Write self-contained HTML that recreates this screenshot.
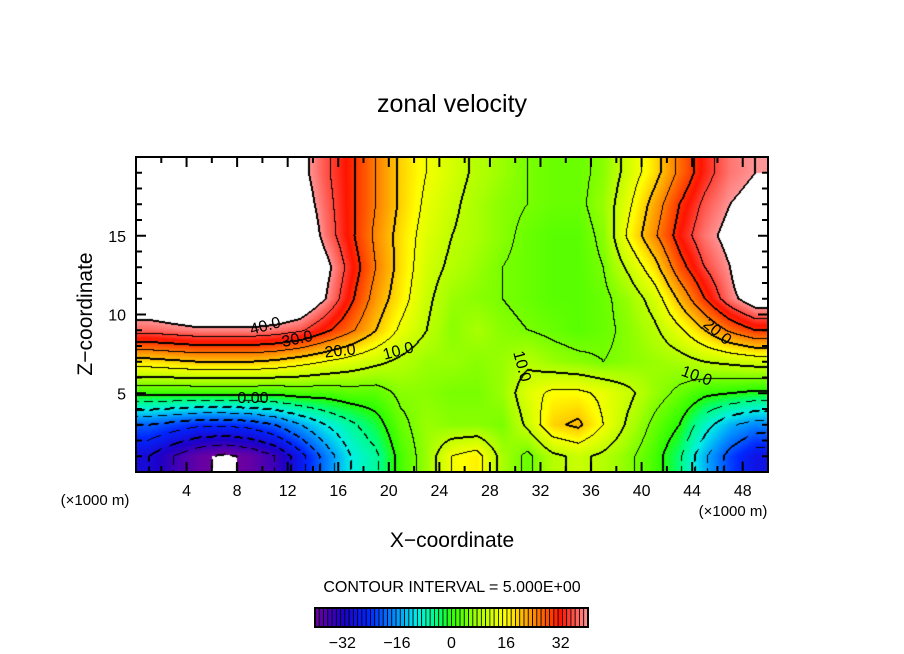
<!DOCTYPE html>
<html><head><meta charset="utf-8"><style>
body{margin:0;background:#fff;}
#wrap{position:relative;width:904px;height:654px;}
#fieldcanvas{position:absolute;left:136px;top:157px;}
svg{position:absolute;left:0;top:0;}
svg text{font-family:"Liberation Sans","DejaVu Sans",sans-serif;fill:#000;}
</style></head><body>
<div id="wrap">
<canvas id="fieldcanvas" width="632" height="315"></canvas>
<svg id="chart" width="904" height="654" viewBox="0 0 904 654" xmlns="http://www.w3.org/2000/svg">
<text x="452" y="112" font-size="25" text-anchor="middle">zonal velocity</text>
<g id="axes"></g>
<text transform="translate(92,314) rotate(-90)" font-size="21" text-anchor="middle">Z−coordinate</text>
<text x="452" y="547" font-size="21" text-anchor="middle">X−coordinate</text>
<text x="95" y="505" font-size="15" text-anchor="middle">(×1000 m)</text>
<text x="733" y="516" font-size="15" text-anchor="middle">(×1000 m)</text>
<text x="452" y="592" font-size="16" text-anchor="middle">CONTOUR INTERVAL = 5.000E+00</text>
<g id="cbar"></g>
</svg>
</div>
<script>
const xCenters=[1,3,5,7,9,11,13,15,17,19,21,23,25,27,29,31,33,35,37,39,41,43,45,47,49];
const zCenters=[19,17,15,13,11,9,7,5,3,1];
const row19=[50,50,50,50,50,50,42,36,31,25,19,15,12,9,7,5,4,4,6,12,18,26,33,38,40];
const row17=[50,50,50,50,50,50,44,37,31,25,19,14,11,8,6,5,4,4,7,14,22,30,36,40,42];
const row15=[50,50,50,50,50,50,47,38,31,24,18,13,10,8,6,4,3,3,6,16,24,32,38,42,50];
const row13=[50,50,50,50,50,50,50,42,33,25,18,12,9,7,5,4,3,3,5,11,18,28,35,40,50];
const row11=[46,48,50,50,50,50,47,40,31,23,17,11,7,6,5,4,3,3,4,7,12,21,30,38,44];
const row9=[37,38,39,39,39,38,36,31,26,20,14,10,6,8,6,5,4,3,4,6,9,14,20,26,30];
const row7=[18,19,20,20,20,19,17,15,13,11,9,7,7,6,7,9,7,6,5,6,7,8,10,11,12];
const row5=[1,1,1,1,1,1,2,2,3,3,6,6,5,5,7,13,16,16,14,11,7,4,1,0,-1];
const row3=[-20,-22,-24,-24,-23,-20,-15,-10,-6,-2,4,7,6,6,5,11,19,21,15,9,4,0,-8,-14,-17];
const row1=[-30,-35,-39,-41,-39,-35,-27,-18,-10,-6,2,7,15,17,8,4,9,11,9,6,2,-4,-14,-22,-28];
const fieldRows=[row19,row17,row15,row13,row11,row9,row7,row5,row3,row1];
const xTicks=[4,8,12,16,20,24,28,32,36,40,44,48];
const zTicks=[5,10,15];
const cbarTicks=[-32,-16,0,16,32];

const X0=136,X1=768,Y0=472,Y1=157;
const xs=v=>X0+(v/50)*(X1-X0);
const zs=v=>Y0-(v/20)*(Y0-Y1);
const stops=[[-40,[110,0,160]],[-32,[30,0,200]],[-24,[0,40,255]],[-16,[0,150,255]],[-10,[0,240,230]],[-4,[0,255,120]],[0,[40,255,0]],[8,[170,255,0]],[16,[255,255,0]],[24,[255,140,0]],[32,[255,20,0]],[40,[255,150,150]]];
function rgb(v){
  if(v>40||v<-40)return [255,255,255];
  if(v<=stops[0][0])return stops[0][1];
  for(let i=1;i<stops.length;i++){
    if(v<=stops[i][0]){const a=stops[i-1],b=stops[i],t=(v-a[0])/(b[0]-a[0]);
      return a[1].map((c,k)=>Math.round(c+(b[1][k]-c)*t));}
  }
  return stops[stops.length-1][1];
}
const color=v=>'rgb('+rgb(v)+')';
function sample(x,z){
  let fx=(x-xCenters[0])/(xCenters[1]-xCenters[0]);
  let fr=(zCenters[0]-z)/(zCenters[0]-zCenters[1]);
  fx=Math.max(0,Math.min(xCenters.length-1,fx));
  fr=Math.max(0,Math.min(zCenters.length-1,fr));
  const i=Math.min(xCenters.length-2,Math.floor(fx)),j=Math.min(zCenters.length-2,Math.floor(fr));
  const tx=fx-i,tr=fr-j;
  const a=fieldRows[j][i],b=fieldRows[j][i+1],c=fieldRows[j+1][i],d=fieldRows[j+1][i+1];
  return (a*(1-tx)+b*tx)*(1-tr)+(c*(1-tx)+d*tx)*tr;
}
const cv=document.getElementById('fieldcanvas');
const ctx=cv.getContext('2d');
const W=cv.width,H=cv.height;
const vals=new Float32Array(W*H);
for(let py=0;py<H;py++)for(let px=0;px<W;px++){
  vals[py*W+px]=sample((px+0.5)/W*50,20-(py+0.5)/H*20);
}
const img=ctx.createImageData(W,H);
for(let py=0;py<H;py++)for(let px=0;px<W;px++){
  const k=py*W+px,v=vals[k];let c=rgb(v);
  const lv=Math.floor(v/5);
  let line=false;
  const nb=[[1,0],[0,1],[-1,0],[0,-1]];
  for(const [dx,dy] of nb){
    const qx=px+dx,qy=py+dy;if(qx<0||qy<0||qx>=W||qy>=H)continue;
    const w=vals[qy*W+qx],lw=Math.floor(w/5);
    if(lw!==lv){const lev=Math.max(lv,lw)*5;
      if(lev>40||lev<-40)continue;
      if(lev<0&&((px+py)%14)>8)continue;
      if(lev%10===0){line=true;}else if(dx>=0&&dy>=0)line=true;}
  }
  if(line)c=[0,0,0];
  img.data[k*4]=c[0];img.data[k*4+1]=c[1];img.data[k*4+2]=c[2];img.data[k*4+3]=255;
}
ctx.putImageData(img,0,0);

const NS='http://www.w3.org/2000/svg';
function mk(tag,attrs,parent){const e=document.createElementNS(NS,tag);for(const k in attrs)e.setAttribute(k,attrs[k]);parent.appendChild(e);return e;}
const axes=document.getElementById('axes');
const frame=mk('rect',{x:X0,y:Y1,width:X1-X0,height:Y0-Y1,fill:'none',stroke:'#000','stroke-width':2},axes);


for(let v=2;v<50;v+=2){const p=xs(v),L=(v%4===0)?10:6;
  mk('line',{x1:p,x2:p,y1:Y0,y2:Y0-L,stroke:'#000','stroke-width':2},axes);
  mk('line',{x1:p,x2:p,y1:Y1,y2:Y1+L,stroke:'#000','stroke-width':2},axes);}
for(let v=1;v<20;v++){const p=zs(v),L=(v%5===0)?10:6;
  mk('line',{x1:X0,x2:X0+L,y1:p,y2:p,stroke:'#000','stroke-width':2},axes);
  mk('line',{x1:X1,x2:X1-L,y1:p,y2:p,stroke:'#000','stroke-width':2},axes);}
xTicks.forEach(v=>{const t=mk('text',{x:xs(v),y:496,'font-size':16,'text-anchor':'middle'},axes);t.textContent=v;
  
  });
zTicks.forEach(v=>{const t=mk('text',{x:126,y:zs(v)+6,'font-size':16,'text-anchor':'end'},axes);t.textContent=v;
  
  });
const labels=[['40.0',265,331,-15],['30.0',297,344,-12],['20.0',340,356,-6],['10.0',398,356,-15],['0.00',253,403,0],['10.0',523,372,75],['20.0',718,337,40],['10.0',697,381,20]];
labels.forEach(l=>{const t=mk('text',{x:l[1],y:l[2],'font-size':16,'text-anchor':'middle',transform:'rotate('+l[3]+' '+l[1]+' '+(l[2]-6)+')'},axes);t.textContent=l[0];
  
  });
const cb=document.getElementById('cbar');
const C0=315,C1=588,CY=608,CH=19,n=64;
const cs=v=>C0+(v+40)/80*(C1-C0);
for(let i=0;i<n;i++){const v=-40+(i+0.5)*80/n;
  const r=mk('rect',{x:cs(-40+i*80/n),y:CY,width:(C1-C0)/n,height:CH,fill:color(v),stroke:'#000','stroke-width':0.8},cb);
  
  }
mk('rect',{x:C0,y:CY,width:C1-C0,height:CH,fill:'none',stroke:'#000','stroke-width':2},cb);
cbarTicks.forEach(v=>{const t=mk('text',{x:cs(v),y:648,'font-size':16,'text-anchor':'middle'},cb);t.textContent=(v<0?'−'+(-v):v);
  
  });
</script>
</body></html>
